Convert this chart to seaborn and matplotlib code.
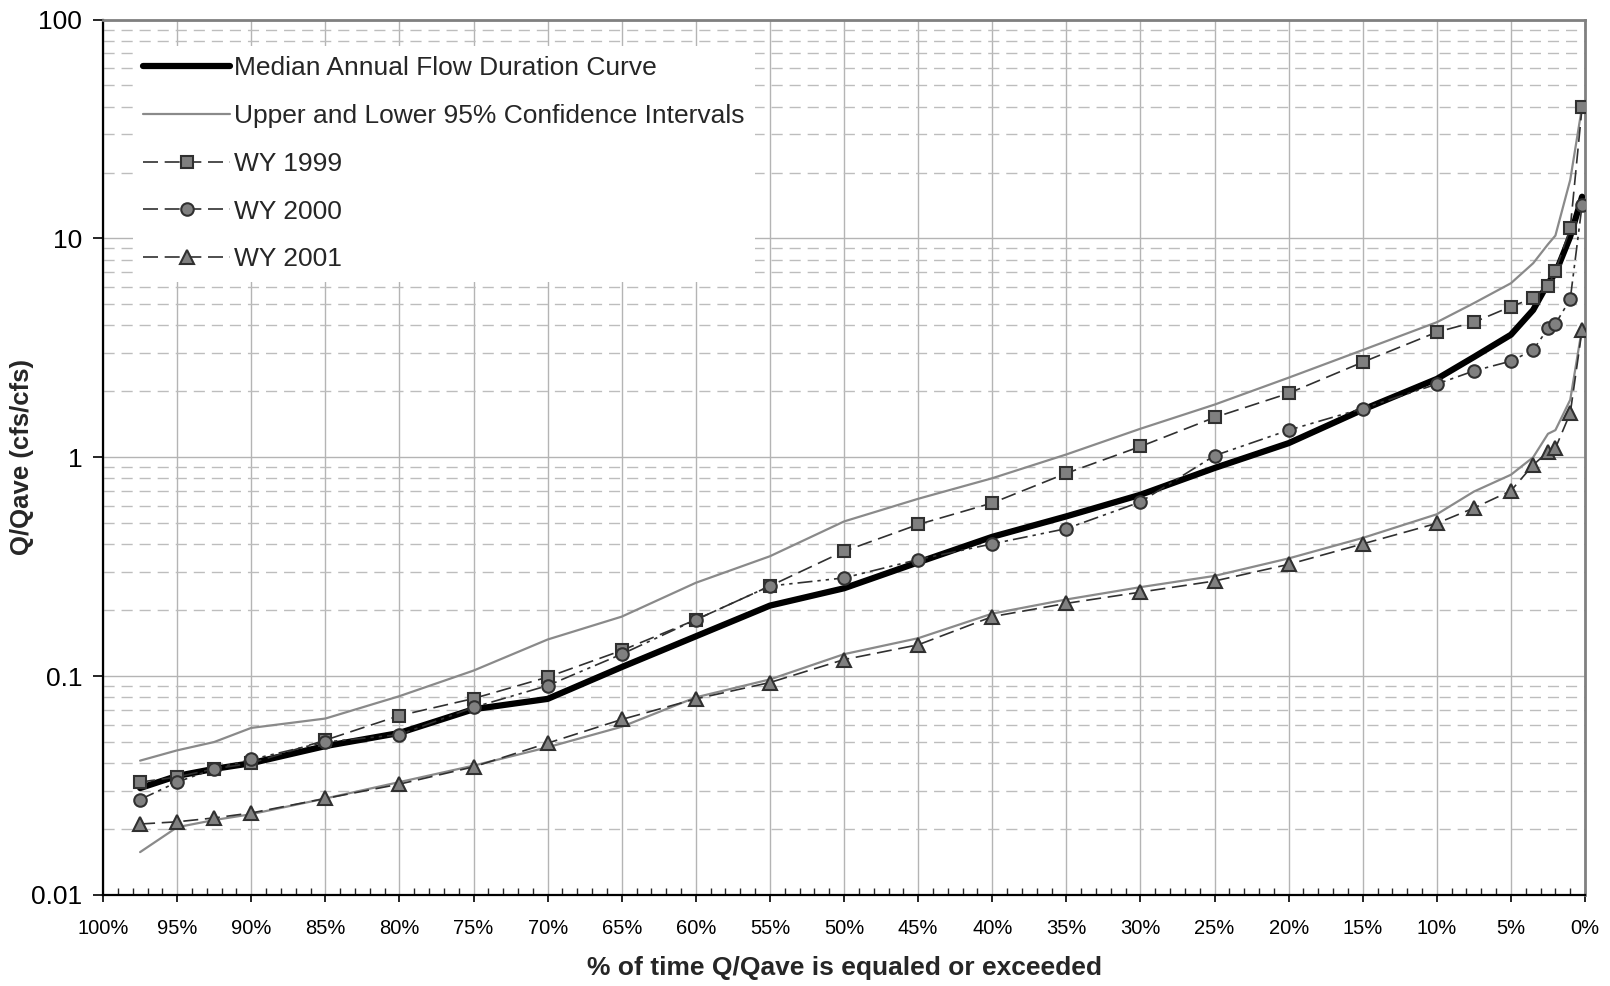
import numpy as np
import pandas as pd
import matplotlib
matplotlib.use("Agg")
import matplotlib.pyplot as plt
from matplotlib.ticker import FixedLocator, MultipleLocator, NullFormatter, LogLocator
from matplotlib.lines import Line2D
import seaborn as sns

# ---------------- data ----------------
pct = [97.5, 95, 92.5, 90, 85, 80, 75, 70, 65, 60, 55, 50, 45, 40, 35, 30,
       25, 20, 15, 10, 7.5, 5, 3.5, 2.5, 2, 1, 0.2]

median = [0.0308, 0.035, 0.0377, 0.040, 0.0479, 0.055, 0.0706, 0.0787, 0.110,
          0.152, 0.210, 0.252, 0.331, 0.433, 0.537, 0.674, 0.893, 1.16, 1.65,
          2.28, 2.87, 3.63, 4.71, 6.24, 6.93, 10.2, 15.5]

upper_ci = [0.0411, 0.0458, 0.050, 0.058, 0.064, 0.081, 0.106, 0.147, 0.187,
            0.267, 0.353, 0.509, 0.646, 0.802, 1.03, 1.35, 1.74, 2.31, 3.09,
            4.14, 5.06, 6.24, 7.7, 9.4, 10.3, 18.5, 40.0]

lower_ci = [0.0157, 0.0204, 0.022, 0.0234, 0.0276, 0.0328, 0.039, 0.0473,
            0.0587, 0.080, 0.0966, 0.126, 0.149, 0.193, 0.224, 0.255, 0.287,
            0.345, 0.428, 0.549, 0.697, 0.832, 1.0, 1.28, 1.33, 1.83, 3.9]

wy1999 = [0.0328, 0.0346, 0.0377, 0.040, 0.051, 0.066, 0.079, 0.099, 0.131,
          0.181, 0.258, 0.372, 0.493, 0.618, 0.845, 1.12, 1.52, 1.96, 2.72,
          3.73, 4.14, 4.88, 5.33, 6.03, 7.13, 11.1, 39.7]

wy2000 = [0.0273, 0.0328, 0.0377, 0.0416, 0.050, 0.054, 0.072, 0.0905, 0.126,
          0.181, 0.258, 0.281, 0.341, 0.402, 0.472, 0.625, 1.017, 1.33, 1.67,
          2.16, 2.48, 2.75, 3.09, 3.88, 4.07, 5.27, 14.2]

wy2001 = [0.0211, 0.0216, 0.0225, 0.0237, 0.0276, 0.0321, 0.0385, 0.0494,
          0.0634, 0.0787, 0.0935, 0.119, 0.139, 0.187, 0.215, 0.242, 0.272,
          0.324, 0.402, 0.499, 0.586, 0.703, 0.922, 1.06, 1.10, 1.59, 3.82]

x_tick_vals = list(range(0, 101, 5))
x_tick_labels = [f"{v}%" for v in x_tick_vals]
y_tick_vals = [0.01, 0.1, 1, 10, 100]
y_tick_labels = ["0.01", "0.1", "1", "10", "100"]

legend_labels = ["Median Annual Flow Duration Curve",
                 "Upper and Lower 95% Confidence Intervals",
                 "WY 1999", "WY 2000", "WY 2001"]

xlabel = "% of time Q/Qave is equaled or exceeded"
ylabel = "Q/Qave (cfs/cfs)"

# ---------------- style ----------------
sns.set_style("white")
plt.rcParams['font.family'] = ['Liberation Sans', 'DejaVu Sans']

df = pd.DataFrame({"pct": pct, "median": median, "upper": upper_ci,
                   "lower": lower_ci, "wy1999": wy1999, "wy2000": wy2000,
                   "wy2001": wy2001})

fig = plt.figure(figsize=(16.1, 9.86), dpi=100)
ax = fig.add_axes([0.064, 0.0923, 0.9205, 0.8879])

grey_line = "#8a8a8a"
dark = "#303030"
mface = "#808080"

sns.lineplot(data=df, x="pct", y="upper", ax=ax, color=grey_line, lw=1.6,
             sort=False, zorder=3)
sns.lineplot(data=df, x="pct", y="lower", ax=ax, color=grey_line, lw=1.6,
             sort=False, zorder=3)
sns.lineplot(data=df, x="pct", y="median", ax=ax, color="black", lw=4.5,
             sort=False, zorder=4)

common = dict(ax=ax, color=dark, lw=1.2, sort=False, markerfacecolor=mface,
              markeredgecolor=dark, markeredgewidth=1.5, zorder=5)
sns.lineplot(data=df, x="pct", y="wy1999", marker="s", markersize=8.5,
             dashes=False, linestyle=(0, (9, 4)), **common)
sns.lineplot(data=df, x="pct", y="wy2000", marker="o", markersize=9,
             dashes=False, linestyle=(0, (9, 3, 2, 3, 2, 3)), **common)
sns.lineplot(data=df, x="pct", y="wy2001", marker="^", markersize=10,
             dashes=False, linestyle=(0, (9, 4)), **common)

ax.set_yscale("log")
ax.set_xlim(100, 0)
ax.set_ylim(0.01, 100)

ax.yaxis.set_major_locator(FixedLocator(y_tick_vals))
ax.set_yticklabels(y_tick_labels)
ax.yaxis.set_minor_locator(LogLocator(base=10, subs=np.arange(2, 10)))
ax.yaxis.set_minor_formatter(NullFormatter())

ax.xaxis.set_major_locator(FixedLocator(x_tick_vals))
ax.set_xticklabels(x_tick_labels)
ax.xaxis.set_minor_locator(MultipleLocator(1))

ax.tick_params(axis="x", which="major", labelsize=14.5, colors="black")
ax.tick_params(axis="y", which="major", labelsize=19, colors="black")
ax.tick_params(axis="y", which="major", direction="out", length=7, width=1.2,
               pad=8, left=True)
ax.tick_params(axis="y", which="minor", length=0)
ax.tick_params(axis="x", which="major", direction="out", length=5, width=1.2,
               pad=12, bottom=True)
ax.tick_params(axis="x", which="minor", direction="in", length=5, width=1.0,
               bottom=True)

ax.grid(True, which="major", axis="x", color="#b4b4b4", lw=1.0, ls="-")
ax.grid(True, which="major", axis="y", color="#b4b4b4", lw=1.0, ls="-")
ax.grid(True, which="minor", axis="y", color="#bdbdbd", lw=1.0,
        ls=(0, (8, 5)))
ax.set_axisbelow(True)

for side in ["left", "bottom"]:
    ax.spines[side].set_color("black")
    ax.spines[side].set_linewidth(1.6)
for side in ["top", "right"]:
    ax.spines[side].set_color("#808080")
    ax.spines[side].set_linewidth(2.0)

ax.set_xlabel(xlabel, fontsize=19, fontweight="bold", labelpad=13)
ax.set_ylabel(ylabel, fontsize=18.5, fontweight="bold", labelpad=-2)

handles = [
    Line2D([], [], color="black", lw=4.5),
    Line2D([], [], color=grey_line, lw=1.6),
    Line2D([], [], color=dark, lw=1.2, ls=(0, (9, 4)), marker="s",
           markersize=8.5, markerfacecolor=mface, markeredgecolor=dark,
           markeredgewidth=1.5),
    Line2D([], [], color=dark, lw=1.2, ls=(0, (9, 4)), marker="o",
           markersize=9, markerfacecolor=mface, markeredgecolor=dark,
           markeredgewidth=1.5),
    Line2D([], [], color=dark, lw=1.2, ls=(0, (9, 4)), marker="^",
           markersize=10, markerfacecolor=mface, markeredgecolor=dark,
           markeredgewidth=1.5),
]
leg = ax.legend(handles, legend_labels, loc="upper left",
                bbox_to_anchor=(0.011, 0.985), fontsize=19, frameon=True,
                facecolor="white", edgecolor="none", framealpha=1.0,
                fancybox=False, handlelength=3.3, handletextpad=0.15,
                labelspacing=0.9, borderpad=0.4)
leg.set_zorder(2)

fig.savefig("out.png", dpi=100)
